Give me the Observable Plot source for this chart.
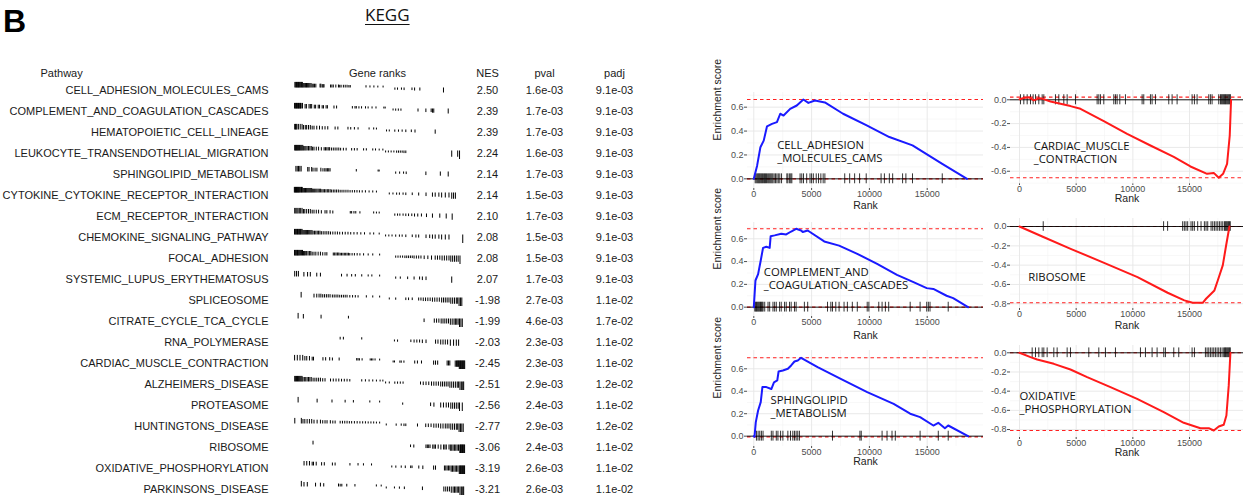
<!DOCTYPE html>
<html><head><meta charset="utf-8">
<script src="https://cdn.jsdelivr.net/npm/d3@7"></script>
<script src="https://cdn.jsdelivr.net/npm/@observablehq/plot@0.6"></script>
<style>
html,body{margin:0;padding:0;background:#fff;}
#root{position:relative;width:1243px;height:500px;overflow:hidden;font-family:"Liberation Sans",Arial,sans-serif;}
.abs{position:absolute;}
.abs svg{max-width:none !important;}
</style></head><body><div id="root"></div>
<script>
// ---------- DATA ----------
const pathways = ["CELL_ADHESION_MOLECULES_CAMS","COMPLEMENT_AND_COAGULATION_CASCADES","HEMATOPOIETIC_CELL_LINEAGE","LEUKOCYTE_TRANSENDOTHELIAL_MIGRATION","SPHINGOLIPID_METABOLISM","CYTOKINE_CYTOKINE_RECEPTOR_INTERACTION","ECM_RECEPTOR_INTERACTION","CHEMOKINE_SIGNALING_PATHWAY","FOCAL_ADHESION","SYSTEMIC_LUPUS_ERYTHEMATOSUS","SPLICEOSOME","CITRATE_CYCLE_TCA_CYCLE","RNA_POLYMERASE","CARDIAC_MUSCLE_CONTRACTION","ALZHEIMERS_DISEASE","PROTEASOME","HUNTINGTONS_DISEASE","RIBOSOME","OXIDATIVE_PHOSPHORYLATION","PARKINSONS_DISEASE"];
const nesValues = [2.50,2.39,2.39,2.24,2.14,2.14,2.10,2.08,2.08,2.07,-1.98,-1.99,-2.03,-2.45,-2.51,-2.56,-2.77,-3.06,-3.19,-3.21];
const pvalValues = [1.6e-3,1.7e-3,1.7e-3,1.6e-3,1.7e-3,1.5e-3,1.7e-3,1.5e-3,1.5e-3,1.7e-3,2.7e-3,4.6e-3,2.3e-3,2.3e-3,2.9e-3,2.4e-3,2.9e-3,2.4e-3,2.6e-3,2.6e-3];
const padjValues = [9.1e-3,9.1e-3,9.1e-3,9.1e-3,9.1e-3,9.1e-3,9.1e-3,9.1e-3,9.1e-3,9.1e-3,1.1e-2,1.7e-2,1.1e-2,1.1e-2,1.2e-2,1.1e-2,1.2e-2,1.1e-2,1.1e-2,1.1e-2];
const tableColumns = ["Pathway","Gene ranks","NES","pval","padj"];
const rankTicks = [0,5000,10000,15000];
const rankMinorTicks = [2500,7500,12500,17500];
// ranking statistic (scaled) per block of 1000 ranks, used for the tick heights in the table
const rankStatBins = [0.62,0.5,0.42,0.37,0.33,0.3,0.27,0.25,0.23,0.21,-0.22,-0.25,-0.29,-0.34,-0.4,-0.47,-0.56,-0.7,-0.95];

const ranksCellAdhesion = [120,210,300,380,450,520,600,680,760,850,930,1010,1100,1200,1290,1380,1470,1560,1650,1760,1880,2000,2120,2250,2400,2860,2950,3100,3200,3290,4004,4150,4300,4576,4862,5000,5150,5400,5600,5800,6000,6149,7865,8294,8723,9152,9724,11011,11297,11726,12012,12870,13156,13728,16302];
const ranksComplement = [86,160,229,300,372,440,515,580,658,730,800,944,1230,1373,1659,1802,1945,2231,2374,2660,2803,3089,3232,3518,3661,4376,4662,6378,6664,6807,7093,7379,7808,8094,8523,8952,9810,9953,10811,11097,11383,11669,13528,14386,14958,15101,15244,16817];
const ranksHematopoietic = [100,180,260,340,500,700,900,1050,1250,1400,1600,1800,2000,2200,2500,2800,3100,3400,3700,4500,4800,5900,6200,6600,7000,8200,8700,9000,10100,10400,11000,11400,11800,12200,12800,13200,15400];
const ranksLeukocyte = [100,170,240,310,380,450,530,610,700,790,880,980,1080,1200,1320,1450,1600,1750,1900,2050,2200,2450,2700,3000,3300,3450,3600,3750,3900,4100,4300,4500,4700,4900,5100,5400,5700,6300,6600,6900,7600,7900,8600,8900,9300,9700,10000,10300,10600,10900,11200,11400,11600,11800,12000,12200,17200,17850,18050];
const ranksSphingolipid = [229,372,515,658,801,1516,1659,1945,2088,2317,2517,2946,3175,3375,3518,3661,3804,3947,6807,9181,9296,11097,11526,11955,12241,14386,15959,16817];
const ranksCytokine = [60,120,180,240,300,360,420,480,540,600,680,760,840,920,1000,1090,1180,1270,1360,1450,1550,1650,1750,1850,1950,2060,2170,2280,2400,2520,2650,2780,2920,3060,3200,3350,3500,3650,3800,3960,4120,4300,4480,4660,4850,5050,5250,5460,5680,5900,6130,6370,6620,6880,7150,7450,7800,8200,8600,9000,10400,10800,11200,11500,11900,12200,12900,13600,14400,15100,15400,15800,16100,16500,16900,17200,17400,17600];
const ranksEcm = [100,220,340,460,600,750,900,1050,1200,1400,1600,1800,2000,2200,2450,2700,3000,3400,3600,3950,4250,6150,6300,6550,6750,7200,8700,9000,9300,11000,11300,11550,11900,12200,12500,12850,13150,13500,13900,14450,15100,15900,16600,17250];
const ranksChemokine = [80,160,240,320,400,480,560,640,720,800,900,1000,1100,1200,1300,1400,1500,1620,1740,1860,1980,2100,2250,2400,2550,2700,2850,3000,3200,3400,3600,3800,4000,4250,4500,4750,5000,5300,5600,5900,6200,6550,6900,7300,7700,8300,8700,9300,10000,10350,10700,11100,11500,11800,12200,12900,13300,13600,14400,14800,15100,15400,15800,16100,16500,16900,18400];
const ranksFocal = [80,160,240,320,400,480,560,650,750,850,950,1050,1150,1250,1400,1550,1700,1850,2000,2200,2400,2650,2900,3150,3400,3600,4300,4450,4600,4750,4900,5050,5200,5350,5500,5650,5800,5950,6100,6350,6600,6900,7200,7600,8100,8600,9350,11100,11350,11600,11850,12100,12300,12500,12700,12900,13100,13350,13600,13850,14200,14600,15000,15400,15650,15900,16150,16400,16650,16900,17100,17300,17500,17700,17900,18100];
const ranksLupus = [100,300,500,1100,1500,1800,2500,2900,5200,5800,6300,6700,7400,8100,8500,9350,11100,11600,12400,13100,13700,14000,14400,17200];
const ranksSpliceosome = [800,2200,2500,2750,2950,3150,3350,3550,3750,3950,4200,4400,4600,4800,5000,5200,5400,5600,5800,6100,6400,6700,7000,7900,8600,9350,10400,11100,12200,12500,12900,13600,13850,14100,14350,14600,14850,15100,15350,15600,15850,16100,16300,16500,16700,16900,17100,17300,17500,17700,17850,18000,18150,18300];
const ranksCitrate = [470,1040,2970,5950,14190,15300,15550,15800,16050,16250,16450,16650,16850,17050,17250,17450,17600,17750,17900,18050,18200,18350];
const ranksRnaPolymerase = [5050,5400,7400,10960,11300,12750,13100,13400,13700,14000,14400,15440,15700,16000,16250,16500,16750,17050,17400,17700,17950];
const ranksCardiac = [88,382,676,970,1205,1411,1705,2000,2146,3175,3469,3910,4204,4939,6850,6997,7144,7438,8320,8467,8614,8850,9349,10819,10966,11554,11701,11995,13171,13465,13906,15229,15435,15670,16699,16846,16993,17581,17728,17800,17875,17950,18022,18100,18169,18240,18316,18390,18463,18540,18610];
const ranksAlzheimers = [100,200,300,400,500,600,700,800,900,1000,1150,1300,1450,1600,1750,1900,2100,2300,2500,2700,2900,3150,3400,4000,4300,4600,4900,5200,5500,5800,6100,7400,7800,8200,8600,9000,9400,9700,10000,10400,11000,11300,11600,11900,13800,14100,14400,14700,15000,15250,15500,15750,16000,16200,16400,16600,16800,17000,17200,17400,17600,17800,17950,18100,18250,18400,18500];
const ranksProteasome = [470,2540,4160,5590,6490,8280,9350,11860,14900,15260,16000,16300,16600,16850,17100,17300,17500,17700,17900,18050,18350];
const ranksHuntingtons = [107,820,1000,1200,1450,1700,1950,2200,2540,2900,3150,3400,3620,3980,4250,4500,5050,5300,5550,5800,6050,6300,6600,6900,7200,7500,7800,8100,8400,8700,9000,9350,10070,11150,11700,12000,12200,13470,14370,14650,14950,15250,15500,15750,16000,16250,16500,16700,16900,17100,17300,17500,17700,17850,18000,18150,18300,18450];
const ranksRibosome = [2094,12715,13069,14396,14544,14691,14839,15134,15281,15429,15724,16019,16314,16461,16609,16904,17051,17199,17346,17494,17641,17789,17936,18084,18160,18231,18300,18379,18450,18526,18600];
const ranksOxidative = [1117,1411,1705,2000,2146,2440,3028,3322,4204,4498,6115,6997,7585,8467,10672,11113,11701,12142,12730,12877,13612,14053,15229,15435,16405,16552,16699,16846,16993,17140,17287,17434,17581,17728,17875,18022,18100,18169,18240,18316,18390,18463,18540,18600];
const ranksParkinsons = [820,1110,1470,2370,2900,3260,4870,5050,5230,5770,6660,8990,9520,10070,10960,11500,12040,14010,16340,16550,16750,16950,17150,17350,17500,17650,17800,17950,18100,18250,18400,18500];

// running enrichment scores [rank, ES]
const esCellAdhesion = [[0,0],[286,0.11],[572,0.265],[858,0.32],[1144,0.44],[1573,0.46],[2002,0.475],[2288,0.545],[2574,0.53],[3146,0.586],[3718,0.614],[4290,0.664],[4719,0.636],[5291,0.656],[6149,0.64],[7722,0.545],[9724,0.45],[11726,0.35],[13728,0.28],[16302,0.125],[18447,0]];
const esCardiac = [[0,0.005],[380,0.015],[823,0.022],[1264,-0.005],[1700,0.012],[2000,0.01],[2734,-0.014],[3616,-0.034],[4498,-0.053],[5380,-0.076],[7438,-0.18],[9496,-0.286],[11554,-0.384],[13612,-0.48],[15082,-0.56],[16552,-0.622],[17140,-0.614],[17581,-0.655],[17963,-0.622],[18316,-0.538],[18551,-0.3],[18669,0]];
const esComplement = [[0,0],[143,0.234],[372,0.29],[600,0.41],[800,0.52],[1087,0.53],[1373,0.52],[1459,0.623],[1802,0.63],[2374,0.644],[2803,0.638],[3232,0.664],[3661,0.688],[4090,0.673],[4233,0.659],[4662,0.673],[6092,0.577],[7379,0.54],[8952,0.468],[10668,0.38],[12384,0.284],[13814,0.22],[14958,0.167],[15530,0.16],[16674,0.1],[17246,0.079],[18533,0]];
const esRibosome = [[0,0],[2006,-0.103],[4514,-0.231],[7464,-0.376],[10414,-0.524],[13069,-0.686],[14544,-0.765],[15281,-0.79],[16166,-0.79],[16461,-0.748],[17199,-0.662],[17494,-0.559],[17936,-0.403],[18231,-0.197],[18526,0]];
const esSphingolipid = [[0,0],[60,-0.006],[172,0.125],[372,0.229],[600,0.303],[744,0.437],[1087,0.437],[1516,0.42],[1745,0.48],[2031,0.496],[2145,0.576],[2517,0.585],[2946,0.6],[3232,0.63],[3518,0.665],[3804,0.674],[4090,0.698],[5520,0.615],[7522,0.51],[9810,0.392],[12098,0.288],[13528,0.2],[14386,0.17],[15530,0.095],[15959,0.119],[16531,0.071],[16817,0.095],[18533,0]];
const esOxidative = [[0,0],[970,-0.045],[1558,-0.07],[3028,-0.115],[4498,-0.174],[5968,-0.254],[8026,-0.358],[10378,-0.48],[12730,-0.619],[14494,-0.73],[15964,-0.786],[16699,-0.786],[17140,-0.81],[17581,-0.769],[18022,-0.75],[18257,-0.654],[18463,-0.34],[18610,0]];

const yTicksPos = [0,0.2,0.4,0.6];
const yTicksNeg6 = [0,-0.2,-0.4,-0.6];
const yTicksNeg8 = [0,-0.2,-0.4,-0.6,-0.8];
const yMinorPos = [0.1,0.3,0.5,0.7];
const yMinorNeg = [-0.1,-0.3,-0.5,-0.7];

// ---------- LAYOUT ----------
const root = document.getElementById("root");
function place(node, left, top) {
  const d = document.createElement("div");
  d.className = "abs"; d.style.left = left + "px"; d.style.top = top + "px";
  d.appendChild(node); root.appendChild(d); return d;
}
const baseStyle = "background:transparent;overflow:visible;max-width:none;font-family:'Liberation Sans',Arial,sans-serif;";

const bDiv = document.createElement("div");
bDiv.textContent = "B";
bDiv.style.cssText = "font:bold 32px 'Liberation Sans',Arial,sans-serif;line-height:32px;color:#000;";
place(bDiv, 3, 4.6);
const kegg = document.createElement("div");
kegg.textContent = "KEGG";
kegg.style.cssText = "font:17px 'Open Sans',sans-serif;line-height:17px;color:#111;text-decoration:underline;text-underline-offset:3px;";
place(kegg, 365, 5.6);

// ---------- TABLE ----------
const fmtExp = v => v.toExponential(1).replace(/e([+-])(\d)$/, "e$10$2");
const tableTop = 57, tableH = 443, bandTop = 21.5, bandBottom = 0.5;
const rowsY = {domain: pathways, type: "band", axis: null, padding: 0};

const rowRanks = [ranksCellAdhesion, ranksComplement, ranksHematopoietic, ranksLeukocyte, ranksSphingolipid, ranksCytokine, ranksEcm, ranksChemokine, ranksFocal, ranksLupus, ranksSpliceosome, ranksCitrate, ranksRnaPolymerase, ranksCardiac, ranksAlzheimers, ranksProteasome, ranksHuntingtons, ranksRibosome, ranksOxidative, ranksParkinsons];
const tickRows = pathways.flatMap((p, i) => rowRanks[i].map(r => ({
  pathway: p, rank: r, stat: rankStatBins[Math.min(rankStatBins.length - 1, Math.floor(r / 1000))]
})));

place(Plot.plot({
  width: 268, height: tableH, marginTop: bandTop, marginBottom: bandBottom, marginLeft: 0, marginRight: 0,
  style: baseStyle, y: rowsY,
  marks: [
    Plot.text([tableColumns[0]], {text: d => d, frameAnchor: "top-left", dx: 40, dy: -10, textAnchor: "start", fontSize: 11, fill: "#1a1a1a"}),
    Plot.text(pathways, {y: d => d, text: d => d, frameAnchor: "right", textAnchor: "end", fontSize: 11, fill: "#1a1a1a"})
  ]
}), 0, tableTop);

function tableColumn(header, texts, center, width) {
  const rows = texts.map((t, i) => ({pathway: pathways[i], text: t}));
  place(Plot.plot({
    width, height: tableH, marginTop: bandTop, marginBottom: bandBottom, marginLeft: 0, marginRight: 0,
    style: baseStyle, y: rowsY,
    marks: [
      Plot.text([header], {text: d => d, frameAnchor: "top", dy: -10, fontSize: 11, fill: "#1a1a1a"}),
      Plot.text(rows, {y: "pathway", text: "text", frameAnchor: "middle", fontSize: 11, fill: "#1a1a1a"})
    ]
  }), center - width / 2, tableTop);
}
tableColumn(tableColumns[1], [], 377, 120);
tableColumn(tableColumns[2], nesValues.map(v => v.toFixed(2)), 486.5, 50);
tableColumn(tableColumns[3], pvalValues.map(fmtExp), 544, 60);
tableColumn(tableColumns[4], padjValues.map(fmtExp), 614, 60);

place(Plot.plot({
  width: 200, height: tableH, marginTop: bandTop, marginBottom: bandBottom, marginLeft: 13.3, marginRight: 15,
  style: baseStyle,
  x: {domain: [0, 18700], axis: null},
  y: {domain: [-1.394, 0.945], axis: null},
  fy: {domain: pathways, padding: 0, axis: null},
  marks: [Plot.ruleX(tickRows, {x: "rank", y1: 0, y2: "stat", fy: "pathway", stroke: "#000", strokeWidth: 1})]
}), 280, tableTop);

// ---------- ENRICHMENT PANELS ----------
function panel(o) {
  const ys = o.curve.map(d => d[1]);
  const esMax = d3.max(ys), esMin = d3.min(ys);
  const half = (esMax - esMin) / 16;
  const marks = [
    Plot.ruleX(rankMinorTicks, {stroke: "#f3f3f3", strokeWidth: 0.6}),
    Plot.ruleY(o.yMinor, {stroke: "#f3f3f3", strokeWidth: 0.6}),
    Plot.ruleX(rankTicks, {stroke: "#e6e6e6", strokeWidth: 0.9}),
    Plot.ruleY(o.yTicks, {stroke: "#e6e6e6", strokeWidth: 0.9}),
    Plot.ruleY([esMax, esMin], {stroke: "#ff2020", strokeDasharray: "3.5,3", strokeWidth: 1.1}),
    Plot.ruleY([0], {stroke: "#000", strokeWidth: 0.9}),
    Plot.ruleX(o.ranks, {x: d => d, y1: -half, y2: half, stroke: "#000", strokeWidth: 0.8}),
    Plot.line(o.curve, {x: d => d[0], y: d => d[1], stroke: o.color, strokeWidth: 2}),
    Plot.text([o.label], {text: d => d, frameAnchor: "top-left", dx: o.ldx, dy: o.ldy, textAnchor: "start", lineAnchor: "middle", fontFamily: "Open Sans", fontSize: 11.3, lineHeight: 1.15, fill: "#111"}),
    Plot.text(["Rank"], {text: d => d, frameAnchor: "bottom", dy: o.rankDy, fontSize: 10.5, fill: "#222"})
  ];
  if (o.yTitle) marks.push(Plot.text(["Enrichment score"], {text: d => d, frameAnchor: "left", dx: -30, rotate: -90, fontSize: 10.5, fill: "#222"}));
  const chart = Plot.plot({
    width: o.w, height: 130, marginLeft: o.ml, marginRight: o.mr, marginTop: o.mt, marginBottom: o.mb,
    style: baseStyle + "font-size:9px;color:#4d4d4d;",
    x: {domain: o.xDomain, ticks: rankTicks, tickSize: 2, tickPadding: 0, label: null, tickFormat: d => String(d)},
    y: {domain: o.yDomain, ticks: o.yTicks, tickSize: 3, tickPadding: 1, label: null, tickFormat: d => d.toFixed(1)},
    marks
  });
  place(chart, o.left, o.top);
}

const leftX = [-545, 19870], rightX = [-794, 19765];
panel({left: 700, top: 85, w: 285, ml: 47, mr: 2, mt: 7, mb: 27, xDomain: leftX, yDomain: [-0.081, 0.723], yTicks: yTicksPos, yMinor: yMinorPos,
  curve: esCellAdhesion, ranks: ranksCellAdhesion, color: "#1a1aff", label: "CELL_ADHESION\n_MOLECULES_CAMS", ldx: 29.7, ldy: 59.3, rankDy: 20.5, yTitle: true});
panel({left: 985, top: 85, w: 258, ml: 25, mr: 0, mt: 5, mb: 32, xDomain: rightX, yDomain: [-0.703, 0.078], yTicks: yTicksNeg6, yMinor: yMinorNeg,
  curve: esCardiac, ranks: ranksCardiac, color: "#ff1a1a", label: "CARDIAC_MUSCLE\n_CONTRACTION", ldx: 23.3, ldy: 62, rankDy: 18.5, yTitle: false});
panel({left: 700, top: 215, w: 285, ml: 47, mr: 2, mt: 7, mb: 29, xDomain: leftX, yDomain: [-0.082, 0.743], yTicks: yTicksPos, yMinor: yMinorPos,
  curve: esComplement, ranks: ranksComplement, color: "#1a1aff", label: "COMPLEMENT_AND\n_COAGULATION_CASCADES", ldx: 16.3, ldy: 56.3, rankDy: 22, yTitle: true});
panel({left: 985, top: 215, w: 258, ml: 25, mr: 0, mt: 3, mb: 37, xDomain: rightX, yDomain: [-0.849, 0.083], yTicks: yTicksNeg8, yMinor: yMinorNeg,
  curve: esRibosome, ranks: ranksRibosome, color: "#ff1a1a", label: "RIBOSOME", ldx: 17.7, ldy: 58, rankDy: 20, yTitle: false});
panel({left: 700, top: 345, w: 285, ml: 47, mr: 2, mt: 5, mb: 29, xDomain: leftX, yDomain: [-0.092, 0.763], yTicks: yTicksPos, yMinor: yMinorPos,
  curve: esSphingolipid, ranks: ranksSphingolipid, color: "#1a1aff", label: "SPHINGOLIPID\n_METABOLISM", ldx: 23, ldy: 56.2, rankDy: 18.5, yTitle: true});
panel({left: 985, top: 345, w: 258, ml: 25, mr: 0, mt: 0, mb: 38, xDomain: rightX, yDomain: [-0.883, 0.076], yTicks: yTicksNeg8, yMinor: yMinorNeg,
  curve: esOxidative, ranks: ranksOxidative, color: "#ff1a1a", label: "OXIDATIVE\n_PHOSPHORYLATION", ldx: 9, ldy: 56.7, rankDy: 18.5, yTitle: false});
</script></body></html>
